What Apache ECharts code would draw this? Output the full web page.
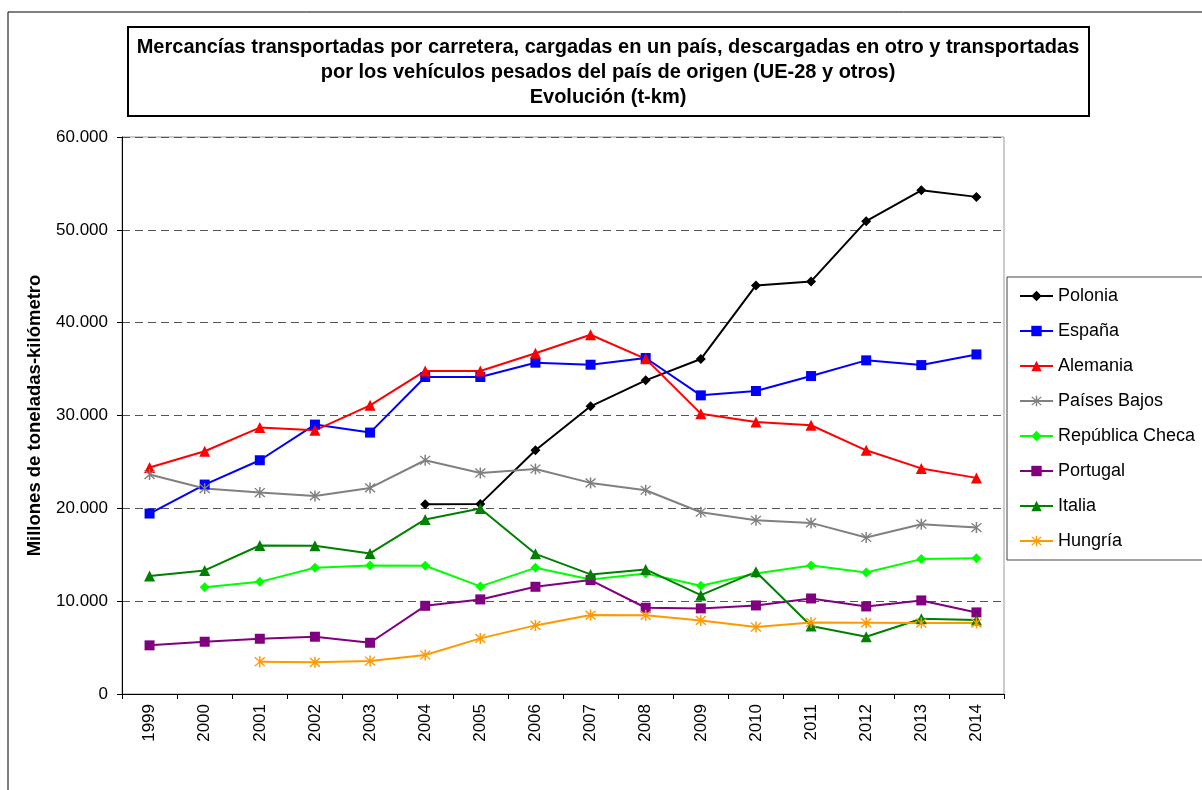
<!DOCTYPE html>
<html>
<head>
<meta charset="utf-8">
<script src="https://cdn.jsdelivr.net/npm/echarts@6/dist/echarts.min.js"></script>
<style>
  html, body { margin: 0; padding: 0; background: #fff; }
  #chart { width: 1202px; height: 790px; }
</style>
</head>
<body>
<div id="chart"></div>
<script>
// años
const years = ['1999', '2000', '2001', '2002', '2003', '2004', '2005', '2006', '2007', '2008', '2009', '2010', '2011', '2012', '2013', '2014']

// millones de t-km
const polonia = [null, null, null, null, null, 20440, 20480, 26250, 30990, 33790, 36080, 44010, 44440, 50930, 54260, 53550]
const espana = [19440, 22560, 25180, 29020, 28160, 34150, 34150, 35690, 35470, 36190, 32170, 32640, 34250, 35940, 35430, 36580]
const alemania = [24400, 26150, 28700, 28400, 31100, 34800, 34800, 36700, 38700, 36100, 30200, 29300, 28950, 26250, 24300, 23280]
const paisesBajos = [23640, 22130, 21700, 21340, 22200, 25180, 23810, 24240, 22740, 21950, 19580, 18720, 18430, 16860, 18290, 17930]
const republicaCheca = [null, 11510, 12080, 13590, 13850, 13810, 11590, 13590, 12340, 12990, 11660, 12990, 13850, 13090, 14530, 14630]
const portugal = [5240, 5630, 5950, 6170, 5520, 9500, 10190, 11550, 12270, 9290, 9220, 9540, 10290, 9430, 10080, 8790]
const italia = [12700, 13310, 16000, 15960, 15140, 18800, 19980, 15100, 12880, 13420, 10650, 13160, 7320, 6170, 8100, 7960]
const hungria = [null, null, 3480, 3410, 3550, 4200, 5990, 7390, 8500, 8470, 7930, 7210, 7710, 7670, 7640, 7640]

const yTicks = [0, 10000, 20000, 30000, 40000, 50000, 60000]

// asterisco tipo Excel
const asterisk = 'path://M4.4,0 L5.6,0 L5.6,10 L4.4,10 Z M0.6,1.4 L1.4,0.6 L9.4,8.6 L8.6,9.4 Z M8.6,0.6 L9.4,1.4 L1.4,9.4 L0.6,8.6 Z'

function serie (name, data, color, symbol, size) {
  return {
    name: name,
    type: 'line',
    data: data,
    symbol: symbol,
    symbolSize: size,
    showSymbol: true,
    connectNulls: false,
    lineStyle: { color: color, width: 2 },
    itemStyle: { color: color },
    emphasis: { disabled: true },
    animation: false
  }
}

const fmt = v => String(v).replace(/\B(?=(\d{3})+(?!\d))/g, '.')

const chart = echarts.init(document.getElementById('chart'))
chart.setOption({
  animation: false,
  textStyle: { fontFamily: 'Liberation Sans, Arial, sans-serif' },
  graphic: [
    // marco exterior
    { type: 'line', shape: { x1: 8, y1: 12, x2: 1202, y2: 12 }, style: { stroke: '#000', lineWidth: 1 } },
    { type: 'line', shape: { x1: 8, y1: 12, x2: 8, y2: 790 }, style: { stroke: '#000', lineWidth: 1 } },
    // caja del título
    { type: 'rect', shape: { x: 128, y: 27, width: 961, height: 89 }, style: { fill: '#fff', stroke: '#000', lineWidth: 2 } },
    {
      type: 'text',
      x: 608,
      y: 35,
      style: {
        text: 'Mercancías transportadas por carretera, cargadas en un país, descargadas en otro y transportadas\npor los vehículos pesados del país de origen (UE-28 y otros)\nEvolución (t-km)',
        fontFamily: 'Liberation Sans, Arial, sans-serif',
        fontWeight: 'bold',
        fontSize: 20,
        lineHeight: 25,
        fill: '#000',
        align: 'center',
        verticalAlign: 'top'
      }
    }
  ],
  legend: {
    orient: 'vertical',
    left: 1007,
    top: 277,
    width: 200,
    height: 282,
    padding: [10, 40, 10, 12],
    itemGap: 17,
    itemWidth: 33,
    itemHeight: 13,
    borderColor: '#444',
    borderWidth: 1,
    backgroundColor: '#fff',
    textStyle: { fontSize: 18, lineHeight: 18, color: '#000', fontFamily: 'Liberation Sans, Arial, sans-serif' },
    data: ['Polonia', 'España', 'Alemania', 'Países Bajos', 'República Checa', 'Portugal', 'Italia', 'Hungría']
  },
  grid: {
    left: 122,
    right: 198,
    top: 137,
    bottom: 96,
    show: true,
    borderColor: '#999',
    borderWidth: 1
  },
  xAxis: {
    type: 'category',
    data: years,
    boundaryGap: true,
    axisLine: { lineStyle: { color: '#000', width: 1 } },
    axisTick: { show: true, length: 5, lineStyle: { color: '#000' } },
    axisLabel: { rotate: 90, fontSize: 17, color: '#000', margin: 10 }
  },
  yAxis: {
    type: 'value',
    min: 0,
    max: 60000,
    interval: 10000,
    name: 'Millones de toneladas-kilómetro',
    nameLocation: 'middle',
    nameRotate: 90,
    nameGap: 78,
    nameTextStyle: { fontSize: 18.5, fontWeight: 'bold', color: '#000' },
    axisLine: { show: true, lineStyle: { color: '#000', width: 1 } },
    axisTick: { show: true, length: 5, lineStyle: { color: '#000' } },
    axisLabel: {
      fontSize: 17,
      color: '#000',
      margin: 14,
      formatter: v => yTicks.indexOf(v) >= 0 ? fmt(v) : ''
    },
    splitLine: { show: true, lineStyle: { color: '#555', type: [8, 5], width: 1 } }
  },
  series: [
    serie('Polonia', polonia, '#000000', 'diamond', 10),
    serie('España', espana, '#0000ff', 'rect', 10),
    serie('Alemania', alemania, '#ff0000', 'triangle', 11),
    serie('Países Bajos', paisesBajos, '#808080', asterisk, 11),
    serie('República Checa', republicaCheca, '#00ff00', 'diamond', 10),
    serie('Portugal', portugal, '#800080', 'rect', 10),
    serie('Italia', italia, '#008000', 'triangle', 11),
    serie('Hungría', hungria, '#ff9900', asterisk, 11)
  ]
})
</script>
</body>
</html>
